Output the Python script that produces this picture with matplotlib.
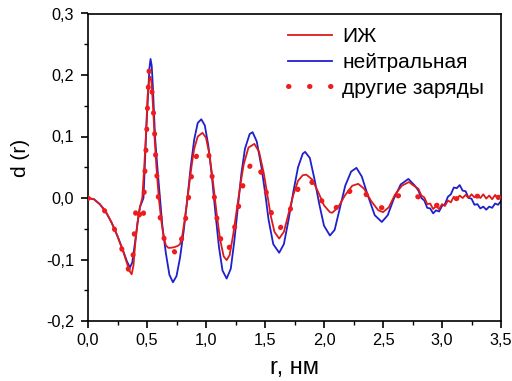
import numpy as np
import matplotlib
matplotlib.use("Agg")
import matplotlib.pyplot as plt
from matplotlib.ticker import MultipleLocator, FuncFormatter

plt.rcParams['font.family'] = ['Liberation Sans', 'DejaVu Sans']

# d(r) curves: ionic liquid, neutral model, other charge sets
r_il = [0.00, 0.05, 0.10, 0.15, 0.20, 0.25, 0.30, 0.33, 0.35, 0.37,
        0.385, 0.40, 0.42, 0.44, 0.46, 0.475, 0.49, 0.505, 0.52, 0.53,
        0.54, 0.555, 0.565, 0.58, 0.60, 0.62, 0.64, 0.66, 0.68, 0.70,
        0.73, 0.76, 0.78, 0.80, 0.82, 0.84, 0.86, 0.88, 0.90, 0.93,
        0.97, 1.00, 1.03, 1.06, 1.09, 1.12, 1.15, 1.175, 1.20, 1.23,
        1.26, 1.29, 1.32, 1.36, 1.41, 1.45, 1.49, 1.52, 1.55, 1.58,
        1.62, 1.66, 1.70, 1.74, 1.78, 1.82, 1.85, 1.90, 1.95, 2.00,
        2.05, 2.07, 2.12, 2.18, 2.24, 2.29, 2.34, 2.40, 2.46, 2.50,
        2.55, 2.60, 2.66, 2.72, 2.76,
        2.800, 2.825, 2.850, 2.875, 2.900, 2.925, 2.950, 2.975, 3.000, 3.025,
        3.050, 3.075, 3.100, 3.125, 3.150, 3.175, 3.200, 3.225, 3.250, 3.275,
        3.300, 3.325, 3.350, 3.375, 3.400, 3.425, 3.450, 3.475, 3.500]
d_il = [0.000, -0.002, -0.010, -0.022, -0.040, -0.062, -0.088, -0.106, -0.118, -0.124,
        -0.110, -0.075, -0.040, -0.015, 0.000, 0.045, 0.098, 0.165, 0.195, 0.197,
        0.185, 0.135, 0.095, 0.050, 0.000, -0.035, -0.062, -0.077, -0.081, -0.081,
        -0.080, -0.078, -0.075, -0.060, -0.035, -0.005, 0.025, 0.055, 0.080, 0.100,
        0.106, 0.098, 0.070, 0.025, -0.025, -0.068, -0.095, -0.101, -0.093, -0.060,
        -0.020, 0.020, 0.055, 0.082, 0.088, 0.075, 0.040, 0.005, -0.030, -0.055,
        -0.066, -0.055, -0.025, 0.005, 0.028, 0.037, 0.038, 0.030, 0.010, -0.012,
        -0.023, -0.024, -0.015, 0.005, 0.020, 0.023, 0.015, -0.005, -0.020, -0.023,
        -0.015, 0.005, 0.020, 0.026, 0.020,
        0.015, 0.004, 0.001, -0.010, -0.009, -0.018, -0.013, -0.018, -0.010, -0.013,
        -0.004, -0.007, 0.002, -0.002, 0.004, 0.000, 0.005, 0.000, 0.006, 0.001,
        0.005, 0.000, 0.006, -0.001, 0.004, -0.002, 0.005, -0.002, 0.002]

r_neutral = [0.00, 0.05, 0.10, 0.15, 0.20, 0.25, 0.30, 0.33, 0.355, 0.375,
             0.40, 0.42, 0.44, 0.47, 0.48, 0.49, 0.50, 0.51, 0.52, 0.53,
             0.54, 0.55, 0.56, 0.57, 0.59, 0.61, 0.63, 0.66, 0.69, 0.72,
             0.75, 0.78, 0.81, 0.84, 0.87, 0.90, 0.93, 0.96, 0.99, 1.02,
             1.05, 1.08, 1.11, 1.14, 1.175, 1.21, 1.24, 1.27, 1.30, 1.33,
             1.37, 1.395, 1.43, 1.47, 1.50, 1.53, 1.57, 1.62, 1.66, 1.70,
             1.74, 1.78, 1.82, 1.84, 1.88, 1.92, 1.96, 2.00, 2.05, 2.09,
             2.13, 2.18, 2.23, 2.275, 2.32, 2.37, 2.43, 2.49, 2.54, 2.59,
             2.65, 2.715, 2.77,
             2.800, 2.825, 2.850, 2.875, 2.900, 2.925, 2.950, 2.975, 3.000, 3.025,
             3.050, 3.075, 3.100, 3.125, 3.150, 3.175, 3.200, 3.225, 3.250, 3.275,
             3.300, 3.325, 3.350, 3.375, 3.400, 3.425, 3.450, 3.475, 3.500]
d_neutral = [0.000, -0.002, -0.010, -0.022, -0.040, -0.062, -0.087, -0.103, -0.113, -0.105,
             -0.070, -0.040, -0.015, 0.000, 0.045, 0.094, 0.135, 0.172, 0.210, 0.226,
             0.215, 0.180, 0.135, 0.094, 0.045, 0.000, -0.045, -0.090, -0.125, -0.137,
             -0.127, -0.097, -0.055, -0.005, 0.050, 0.095, 0.122, 0.128, 0.118, 0.085,
             0.035, -0.025, -0.080, -0.118, -0.131, -0.115, -0.070, -0.015, 0.040, 0.080,
             0.104, 0.107, 0.092, 0.050, 0.010, -0.035, -0.075, -0.089, -0.075, -0.035,
             0.010, 0.050, 0.072, 0.075, 0.065, 0.030, -0.010, -0.045, -0.061, -0.052,
             -0.020, 0.020, 0.043, 0.049, 0.035, 0.005, -0.028, -0.039, -0.028, -0.002,
             0.022, 0.031, 0.020,
             0.012, 0.000, -0.004, -0.016, -0.017, -0.025, -0.020, -0.022, -0.013, -0.010,
             0.002, 0.006, 0.017, 0.016, 0.021, 0.012, 0.011, 0.000, -0.001, -0.011,
             -0.010, -0.017, -0.014, -0.019, -0.014, -0.016, -0.009, -0.011, -0.005]

r_other = [0.00, 0.13, 0.223, 0.285, 0.342, 0.365, 0.378, 0.39, 0.398, 0.413,
           0.435, 0.44, 0.469, 0.475, 0.48, 0.489, 0.497, 0.503, 0.511, 0.511,
           0.531, 0.548, 0.559, 0.568, 0.576, 0.59, 0.60, 0.623, 0.667, 0.71,
           0.75, 0.807, 0.836, 0.859, 0.884, 0.935, 0.95, 1.02, 1.048, 1.068,
           1.09, 1.119, 1.161, 1.19, 1.232, 1.268, 1.302, 1.345, 1.401, 1.44,
           1.478, 1.523, 1.565, 1.621, 1.692, 1.748, 1.811, 1.85, 1.896, 1.95,
           2.00, 2.06, 2.12, 2.18, 2.24, 2.29, 2.34, 2.40, 2.46, 2.50,
           2.55, 2.60, 2.66, 2.72, 2.78, 2.84, 2.90, 2.95, 3.00, 3.10,
           3.20, 3.30, 3.40, 3.50]
d_other = [0.000, -0.017, -0.050, -0.082, -0.116, -0.120, -0.104, -0.069, -0.033, -0.009,
           -0.023, -0.042, -0.034, 0.000, 0.034, 0.069, 0.105, 0.143, 0.175, 0.210,
           0.197, 0.162, 0.126, 0.091, 0.056, 0.021, -0.013, -0.050, -0.082, -0.080,
           -0.093, -0.058, -0.023, 0.010, 0.045, 0.078, 0.079, 0.075, 0.042, 0.006,
           -0.030, -0.063, -0.088, -0.085, -0.058, -0.023, 0.0125, 0.043, 0.061, 0.055,
           0.035, 0.000, -0.0325, -0.051, -0.031, 0.000, 0.029, 0.030, 0.026, 0.008,
           -0.012, -0.022, -0.013, 0.003, 0.015, 0.018, 0.010, -0.005, -0.015, -0.016,
           -0.010, 0.000, 0.007, 0.008, 0.004, -0.004, -0.010, -0.012, -0.010, -0.002,
           0.002, 0.003, 0.002, 0.001]

fig = plt.figure(figsize=(5.12, 3.81), dpi=100)
ax = fig.add_axes([88 / 512, 60 / 381, 413 / 512, 307.5 / 381])

ax.plot(r_neutral, d_neutral, color='#1f1fcc', lw=1.3, label='нейтральная', zorder=2)
ax.plot(r_il, d_il, color='#dd1a1a', lw=1.3, label='ИЖ', zorder=3)
ax.plot(r_other, d_other, color='#ee1c1c', lw=3.6, dashes=(0.1, 4.1),
        dash_capstyle='round', label='другие заряды', zorder=4)

ax.set_xlim(0, 3.5)
ax.set_ylim(-0.2, 0.3)
ax.xaxis.set_major_locator(MultipleLocator(0.5))
ax.xaxis.set_minor_locator(MultipleLocator(0.25))
ax.yaxis.set_major_locator(MultipleLocator(0.1))
ax.yaxis.set_minor_locator(MultipleLocator(0.05))

comma = FuncFormatter(lambda v, pos: f"{v:.1f}".replace('.', ',').replace('−', '-'))
ax.xaxis.set_major_formatter(comma)
ax.yaxis.set_major_formatter(comma)

ax.tick_params(which='major', direction='out', length=5, width=1.2,
               labelsize=11.7, pad=3.5, top=False, right=False)
ax.tick_params(which='minor', direction='out', length=3, width=1.0,
               top=False, right=False)
ax.tick_params(axis='y', which='major', pad=5)
for s in ax.spines.values():
    s.set_linewidth(1.2)

fig.text(20 / 512, 1 - 158 / 381, 'd (r)', rotation=90, ha='center', va='center',
         fontsize=15)
fig.text(294 / 512, 1 - 368 / 381, 'r, нм', ha='center', va='center', fontsize=17)

handles, labels = ax.get_legend_handles_labels()
order = [1, 0, 2]
ax.legend([handles[i] for i in order], [labels[i] for i in order],
          loc='upper left', bbox_to_anchor=(0.485, 0.955), frameon=False,
          fontsize=15, handlelength=2.1, handletextpad=0.5,
          labelspacing=0.32, borderpad=0, borderaxespad=0)

fig.savefig('out.png', dpi=100)
